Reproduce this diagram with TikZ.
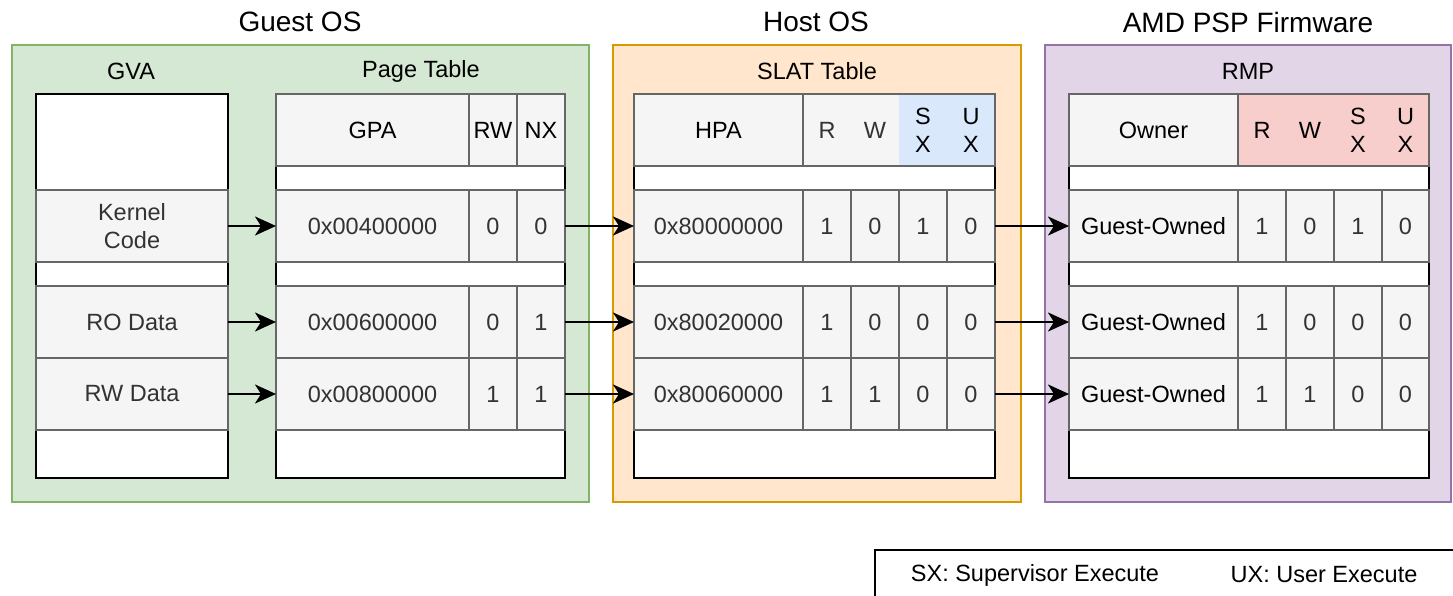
\documentclass[tikz,border=0pt]{standalone}
\usepackage{fontspec}
\setmainfont{Liberation Sans}
\usetikzlibrary{arrows.meta}
\definecolor{gfill}{HTML}{D5E8D4}
\definecolor{gstroke}{HTML}{82B366}
\definecolor{hfill}{HTML}{FFE6CC}
\definecolor{hstroke}{HTML}{D79B00}
\definecolor{pfill}{HTML}{E1D5E7}
\definecolor{pstroke}{HTML}{9673A6}
\definecolor{cellfill}{HTML}{F5F5F5}
\definecolor{cellstroke}{HTML}{666666}
\definecolor{celltext}{HTML}{333333}
\definecolor{bluefill}{HTML}{DAE8FC}
\definecolor{redfill}{HTML}{F8CECC}
\newcommand\mycellfont{\fontsize{23.5}{28}\selectfont}
\newcommand\mytitlefont{\fontsize{28}{32}\selectfont}
\newcommand\cellbox[7]{\node[#6, minimum width={(#4-#2)*1pt}, minimum height={(#5-#3)*1pt}] (#1) at ({(#2+#4)/2},{(#3+#5)/2}) {#7};}
\tikzset{
  base/.style={inner sep=0pt, outer sep=0pt},
  cont/.style={base, draw, line width=2pt},
  wbox/.style={base, draw=black, fill=white, line width=2.2pt},
  gcell/.style={base, draw=cellstroke, fill=cellfill, line width=1.8pt, text=celltext, font=\mycellfont, align=center},
  hcell/.style={gcell, text=black},
  fillonly/.style={base, draw=none},
  outline/.style={base, draw=cellstroke, line width=1.8pt},
  htext/.style={base, font=\mycellfont, align=center, text=black},
  title/.style={base, font=\mytitlefont, text=black},
  sub/.style={base, font=\mycellfont, text=black},
  arr/.style={line width=2.5pt, -{Stealth[length=21pt,width=19pt,inset=6pt]}},
}
\begin{document}
\begin{tikzpicture}[x=1pt,y=-1pt]
\useasboundingbox (0,0) rectangle (1453,596);
% containers
\cellbox{guest}{12}{45}{589}{502}{cont, draw=gstroke, fill=gfill}{}
\cellbox{host}{613}{45}{1021}{502}{cont, draw=hstroke, fill=hfill}{}
\cellbox{amd}{1045}{45}{1451}{502}{cont, draw=pstroke, fill=pfill}{}
\node[title] (tguest) at (300,22) {Guest OS};
\node[title] (thost) at (816,22) {Host OS};
\node[title] (tamd) at (1248,22) {AMD PSP Firmware};
\node[sub] (sgva) at (131,71) {GVA};
\node[sub] (spt) at (421,71) {Page Table};
\node[sub] (sslat) at (817,71) {SLAT Table};
\node[sub] (srmp) at (1248,71) {RMP};
% GVA
\cellbox{gvaTop}{36}{94}{228}{190}{wbox}{}
\cellbox{gvaSep}{36}{262}{228}{286}{wbox}{}
\cellbox{gvaBot}{36}{430}{228}{478}{wbox}{}
\cellbox{gvaK}{36}{190}{228}{262}{gcell}{Kernel\\Code}
\cellbox{gvaRO}{36}{286}{228}{358}{gcell}{RO Data}
\cellbox{gvaRW}{36}{358}{228}{430}{gcell}{RW Data}
% Page table
\cellbox{ptW1}{276}{166}{565}{190}{wbox}{}
\cellbox{ptW2}{276}{262}{565}{286}{wbox}{}
\cellbox{ptW3}{276}{430}{565}{478}{wbox}{}
\cellbox{ptHgpa}{276}{94}{469}{166}{hcell}{GPA}
\cellbox{ptHrw}{469}{94}{517}{166}{hcell}{RW}
\cellbox{ptHnx}{517}{94}{565}{166}{hcell}{NX}
\cellbox{ptA1}{276}{190}{469}{262}{gcell}{0x00400000}
\cellbox{ptB1}{469}{190}{517}{262}{gcell}{0}
\cellbox{ptC1}{517}{190}{565}{262}{gcell}{0}
\cellbox{ptA2}{276}{286}{469}{358}{gcell}{0x00600000}
\cellbox{ptB2}{469}{286}{517}{358}{gcell}{0}
\cellbox{ptC2}{517}{286}{565}{358}{gcell}{1}
\cellbox{ptA3}{276}{358}{469}{430}{gcell}{0x00800000}
\cellbox{ptB3}{469}{358}{517}{430}{gcell}{1}
\cellbox{ptC3}{517}{358}{565}{430}{gcell}{1}
% SLAT
\cellbox{slW1}{634}{166}{995}{190}{wbox}{}
\cellbox{slW2}{634}{262}{995}{286}{wbox}{}
\cellbox{slW3}{634}{430}{995}{478}{wbox}{}
\cellbox{slHhpa}{634}{94}{803}{166}{hcell}{HPA}
\cellbox{slHbg1}{803}{94}{899}{166}{fillonly, fill=cellfill}{}
\cellbox{slHbg2}{899}{94}{995}{166}{fillonly, fill=bluefill}{}
\cellbox{slHout}{803}{94}{995}{166}{outline}{}
\cellbox{slHr}{803}{94}{851}{166}{htext, text=celltext}{R}
\cellbox{slHw}{851}{94}{899}{166}{htext, text=celltext}{W}
\cellbox{slHsx}{899}{94}{947}{166}{htext}{S\\X}
\cellbox{slHux}{947}{94}{995}{166}{htext}{U\\X}
\cellbox{slA1}{634}{190}{803}{262}{gcell}{0x80000000}
\cellbox{slB1}{803}{190}{851}{262}{gcell}{1}
\cellbox{slC1}{851}{190}{899}{262}{gcell}{0}
\cellbox{slD1}{899}{190}{947}{262}{gcell}{1}
\cellbox{slE1}{947}{190}{995}{262}{gcell}{0}
\cellbox{slA2}{634}{286}{803}{358}{gcell}{0x80020000}
\cellbox{slB2}{803}{286}{851}{358}{gcell}{1}
\cellbox{slC2}{851}{286}{899}{358}{gcell}{0}
\cellbox{slD2}{899}{286}{947}{358}{gcell}{0}
\cellbox{slE2}{947}{286}{995}{358}{gcell}{0}
\cellbox{slA3}{634}{358}{803}{430}{gcell}{0x80060000}
\cellbox{slB3}{803}{358}{851}{430}{gcell}{1}
\cellbox{slC3}{851}{358}{899}{430}{gcell}{1}
\cellbox{slD3}{899}{358}{947}{430}{gcell}{0}
\cellbox{slE3}{947}{358}{995}{430}{gcell}{0}
% RMP
\cellbox{rmW1}{1069}{166}{1429}{190}{wbox}{}
\cellbox{rmW2}{1069}{262}{1429}{286}{wbox}{}
\cellbox{rmW3}{1069}{430}{1429}{478}{wbox}{}
\cellbox{rmHown}{1069}{94}{1238}{166}{hcell}{Owner}
\cellbox{rmHbg}{1238}{94}{1429}{166}{fillonly, fill=redfill}{}
\cellbox{rmHout}{1238}{94}{1429}{166}{outline}{}
\cellbox{rmHr}{1238}{94}{1286}{166}{htext}{R}
\cellbox{rmHw}{1286}{94}{1334}{166}{htext}{W}
\cellbox{rmHsx}{1334}{94}{1382}{166}{htext}{S\\X}
\cellbox{rmHux}{1382}{94}{1429}{166}{htext}{U\\X}
\cellbox{rmA1}{1069}{190}{1238}{262}{gcell, text=black}{Guest-Owned}
\cellbox{rmB1}{1238}{190}{1286}{262}{gcell}{1}
\cellbox{rmC1}{1286}{190}{1334}{262}{gcell}{0}
\cellbox{rmD1}{1334}{190}{1382}{262}{gcell}{1}
\cellbox{rmE1}{1382}{190}{1429}{262}{gcell}{0}
\cellbox{rmA2}{1069}{286}{1238}{358}{gcell, text=black}{Guest-Owned}
\cellbox{rmB2}{1238}{286}{1286}{358}{gcell}{1}
\cellbox{rmC2}{1286}{286}{1334}{358}{gcell}{0}
\cellbox{rmD2}{1334}{286}{1382}{358}{gcell}{0}
\cellbox{rmE2}{1382}{286}{1429}{358}{gcell}{0}
\cellbox{rmA3}{1069}{358}{1238}{430}{gcell, text=black}{Guest-Owned}
\cellbox{rmB3}{1238}{358}{1286}{430}{gcell}{1}
\cellbox{rmC3}{1286}{358}{1334}{430}{gcell}{1}
\cellbox{rmD3}{1334}{358}{1382}{430}{gcell}{0}
\cellbox{rmE3}{1382}{358}{1429}{430}{gcell}{0}
% arrows
\draw[arr] (gvaK.east) -- (ptA1.west);
\draw[arr] (gvaRO.east) -- (ptA2.west);
\draw[arr] (gvaRW.east) -- (ptA3.west);
\draw[arr] (ptC1.east) -- (slA1.west);
\draw[arr] (ptC2.east) -- (slA2.west);
\draw[arr] (ptC3.east) -- (slA3.west);
\draw[arr] (slE1.east) -- (rmA1.west);
\draw[arr] (slE2.east) -- (rmA2.west);
\draw[arr] (slE3.east) -- (rmA3.west);
% legend
\cellbox{legend}{875}{550}{1475}{620}{base, draw=black, line width=2pt}{}
\node[sub] (legSX) at (1035,575) {SX: Supervisor Execute};
\node[sub] (legUX) at (1324,575) {UX: User Execute};
\end{tikzpicture}
\end{document}
